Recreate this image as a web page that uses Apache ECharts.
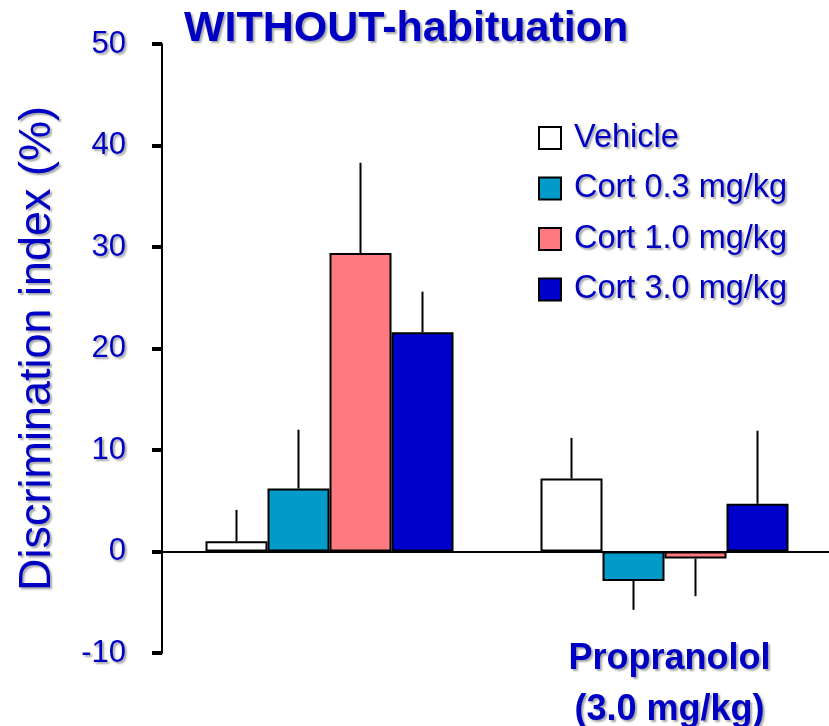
<!DOCTYPE html>
<html>
<head>
<meta charset="utf-8">
<script src="https://cdn.jsdelivr.net/npm/echarts@6/dist/echarts.min.js"></script>
<style>
  html, body { margin: 0; padding: 0; background: #fff; }
  #chart { width: 829px; height: 726px; }
</style>
</head>
<body>
<div id="chart"></div>
<script>
// Groups along the x axis (first group has no caption)
const categories = ['', 'Propranolol\n(3.0 mg/kg)'];
const seriesNames = ['Vehicle', 'Cort 0.3 mg/kg', 'Cort 1.0 mg/kg', 'Cort 3.0 mg/kg'];
// Mean discrimination index (%) per group
const vehicle = [1.0, 7.2];
const cort03 = [6.2, -2.9];
const cort10 = [29.4, -0.7];
const cort30 = [21.6, 4.7];
// SEM per group (drawn one-sided, away from zero)
const vehicleErr = [3.1, 4.0];
const cort03Err = [5.8, 2.85];
const cort10Err = [8.9, 3.7];
const cort30Err = [4.0, 7.2];
// Y axis ticks
const yTicks = { min: -10, max: 50, step: 10 };

const means = [vehicle, cort03, cort10, cort30];
const errs = [vehicleErr, cort03Err, cort10Err, cort30Err];
const colors = ['#FFFFFF', '#009BC9', '#FF7A80', '#0000CC'];
const textBlue = '#0000C4';
const BAR_W = 62;
const shadow = {
  textShadowColor: 'rgba(0,0,0,0.35)',
  textShadowBlur: 2,
  textShadowOffsetX: 2,
  textShadowOffsetY: 2
};

const errData = [];
means.forEach((arr, s) => {
  arr.forEach((v, c) => errData.push([c, v, errs[s][c], s]));
});

const barSeries = seriesNames.map((name, s) => ({
  name: name,
  type: 'bar',
  xAxisIndex: 0,
  data: means[s],
  barWidth: BAR_W,
  barGap: '0%',
  itemStyle: { color: colors[s], borderColor: '#000', borderWidth: 2 },
  z: 2
}));

const errSeries = {
  type: 'custom',
  xAxisIndex: 0,
  data: errData,
  z: 3,
  renderItem: function (params, api) {
    const c = api.value(0), m = api.value(1), e = api.value(2), s = api.value(3);
    const dir = m >= 0 ? 1 : -1;
    const p0 = api.coord([c, m]);
    const p1 = api.coord([c, m + dir * e]);
    const x = p0[0] + (s - 1.5) * BAR_W;
    return {
      type: 'line',
      shape: { x1: x, y1: p0[1], x2: x, y2: p1[1] },
      style: { stroke: '#000', lineWidth: 2 }
    };
  }
};

const chart = echarts.init(document.getElementById('chart'), null, { renderer: 'canvas' });
chart.setOption({
  animation: false,
  backgroundColor: '#fff',
  textStyle: { fontFamily: 'Liberation Sans, Arial, sans-serif' },
  title: {
    text: 'WITHOUT-habituation',
    left: 179,
    top: 3,
    textStyle: Object.assign({ color: textBlue, fontSize: 43, fontWeight: 'bold' }, shadow)
  },
  legend: {
    data: seriesNames,
    orient: 'vertical',
    left: 538,
    top: 120,
    padding: 0,
    itemWidth: 22,
    itemHeight: 22,
    itemGap: 14.5,
    icon: 'rect',
    itemStyle: { borderColor: '#000', borderWidth: 2 },
    textStyle: Object.assign({ color: textBlue, fontSize: 32.5, lineHeight: 36, padding: [0, 0, 0, 8] }, shadow)
  },
  grid: { left: 162, right: -3, top: 44, bottom: 73, containLabel: false, outerBoundsMode: 'none' },
  xAxis: [
    {
      type: 'category',
      data: categories,
      axisLine: { onZero: true, lineStyle: { color: '#000', width: 2 } },
      axisTick: { show: false },
      axisLabel: { show: false },
      splitLine: { show: false }
    },
    {
      type: 'category',
      data: categories,
      position: 'bottom',
      axisLine: { show: false },
      axisTick: { show: false },
      axisLabel: Object.assign({
        color: textBlue,
        fontSize: 36,
        fontWeight: 'bold',
        lineHeight: 51,
        margin: -19,
        padding: [0, 0, 0, 10]
      }, shadow)
    }
  ],
  yAxis: {
    type: 'value',
    min: yTicks.min,
    max: yTicks.max,
    interval: yTicks.step,
    name: 'Discrimination index (%)',
    nameLocation: 'middle',
    nameGap: 102,
    nameTextStyle: Object.assign({ color: textBlue, fontSize: 45 }, shadow),
    axisLine: { show: true, lineStyle: { color: '#000', width: 2 } },
    axisTick: { show: true, inside: false, length: 10, lineStyle: { color: '#000', width: 4 } },
    axisLabel: Object.assign({ color: textBlue, fontSize: 31, margin: 36 }, shadow),
    splitLine: { show: false }
  },
  series: barSeries.concat([errSeries])
});
</script>
</body>
</html>
